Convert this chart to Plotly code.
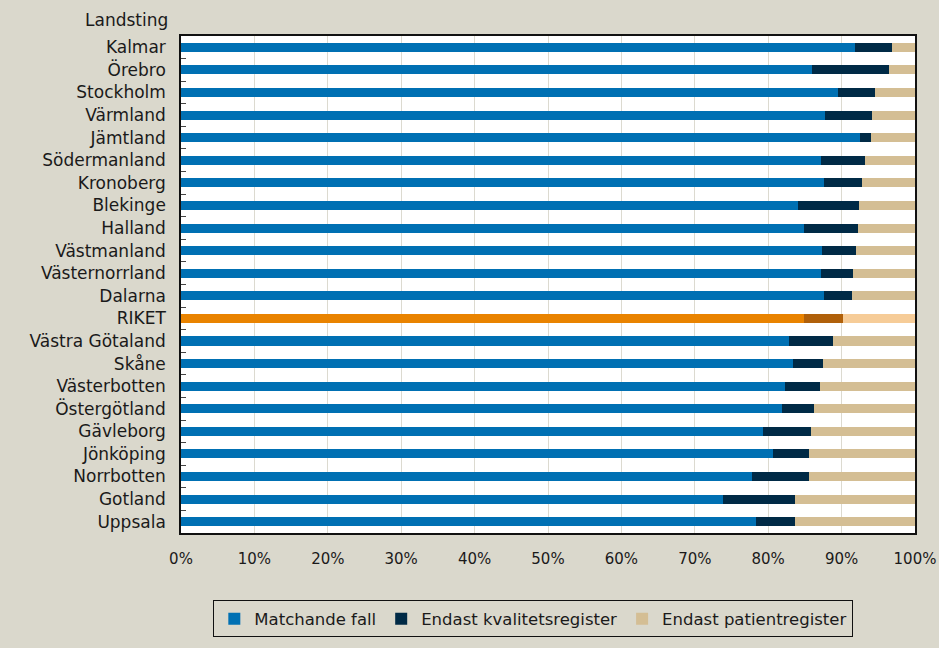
import plotly.graph_objects as go

# Landsting, listed top to bottom
landsting = [
    "Kalmar", "Örebro", "Stockholm", "Värmland", "Jämtland", "Södermanland",
    "Kronoberg", "Blekinge", "Halland", "Västmanland", "Västernorrland",
    "Dalarna", "RIKET", "Västra Götaland", "Skåne", "Västerbotten",
    "Östergötland", "Gävleborg", "Jönköping", "Norrbotten", "Gotland", "Uppsala",
]

# Share of cases (%) per source
matchande = [91.8, 85.9, 89.5, 87.8, 92.5, 87.2, 87.6, 84.1, 84.9, 87.3, 87.2,
             87.6, 84.9, 82.9, 83.4, 82.3, 81.9, 79.3, 80.7, 77.8, 73.9, 78.4]
kvalitetsregister = [5.1, 10.6, 5.1, 6.4, 1.5, 6.0, 5.2, 8.3, 7.3, 4.6, 4.3,
                     3.8, 5.3, 5.9, 4.0, 4.7, 4.3, 6.5, 4.8, 7.7, 9.8, 5.2]
patientregister = [3.1, 3.5, 5.4, 5.8, 6.0, 6.8, 7.2, 7.6, 7.8, 8.1, 8.5,
                   8.6, 9.8, 11.2, 12.6, 13.0, 13.8, 14.2, 14.5, 14.5, 16.3, 16.4]

x_ticks = list(range(0, 101, 10))

series = [
    ("Matchande fall", matchande, "#0070B3", "#E98300"),
    ("Endast kvalitetsregister", kvalitetsregister, "#002A46", "#B0600A"),
    ("Endast patientregister", patientregister, "#D4BE94", "#F6CC98"),
]

FONT = "DejaVu Sans"
BG = "#DAD8CC"
TXT = "#1a1a1a"

fig = go.Figure()
for name, vals, col, riket_col in series:
    colors = [riket_col if l == "RIKET" else col for l in landsting]
    fig.add_trace(go.Bar(
        y=landsting, x=vals, name=name, orientation="h",
        marker=dict(color=colors, line=dict(width=0)),
    ))

fig.update_layout(
    barmode="stack",
    bargap=0.6,
    width=939, height=648,
    paper_bgcolor=BG,
    plot_bgcolor="white",
    margin=dict(l=181, r=24, t=36, b=115, autoexpand=False),
    font=dict(family=FONT, size=16, color=TXT),
    showlegend=True,
    legend=dict(
        orientation="h",
        x=0.48, xanchor="center",
        y=-0.173, yanchor="middle",
        bgcolor=BG, bordercolor="#111111", borderwidth=1,
        font=dict(family=FONT, size=16.5, color=TXT),
        traceorder="normal",
        itemwidth=30,
    ),
    annotations=[dict(
        text="Landsting", xref="paper", yref="paper",
        x=-0.015, y=1.0, xanchor="right", yanchor="bottom", yshift=4,
        showarrow=False, font=dict(family=FONT, size=17, color=TXT),
    )],
)

fig.update_xaxes(
    range=[0, 100],
    tickvals=x_ticks,
    ticktext=[f"{v}%" for v in x_ticks],
    showgrid=True, gridcolor="#DCDAD0", gridwidth=1,
    showline=True, linecolor="#111111", linewidth=1.5, mirror=True,
    ticks="", zeroline=False, automargin=False,
    ticklabelstandoff=11,
    tickfont=dict(family=FONT, size=15, color=TXT),
)
fig.update_yaxes(
    autorange="reversed",
    showgrid=False, automargin=False,
    showline=True, linecolor="#111111", linewidth=1.5, mirror=True,
    ticks="inside", ticklen=5, tickcolor="#444444", tickson="boundaries",
    ticklabelstandoff=10,
    tickfont=dict(family=FONT, size=17, color=TXT),
)

fig.write_html("out.html")
